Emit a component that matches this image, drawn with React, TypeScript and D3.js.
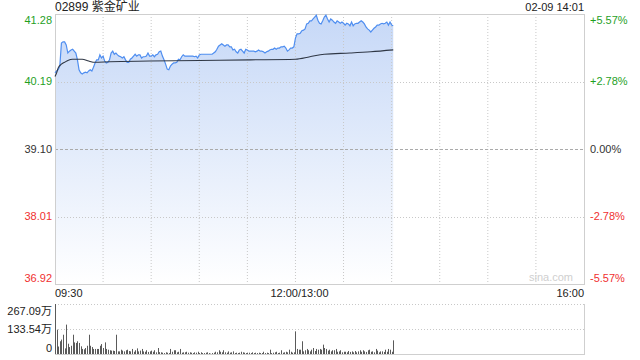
import React from "react";
import * as d3 from "d3";

const title = "02899 紫金矿业";
const stamp = "02-09 14:01";
const prevClose = 39.1;
const priceTicks = [41.28, 40.19, 39.1, 38.01, 36.92];
const pctTicks = ["+5.57%", "+2.78%", "0.00%", "-2.78%", "-5.57%"];
const timeTickMinutes = [0, 150, 330];
const timeTickLabels = ["09:30", "12:00/13:00", "16:00"];
const volTicks = [267.09, 133.54, 0];
const volTickLabels = ["267.09万", "133.54万", "0"];

const prices = [
  40.33, 40.36, 40.38, 40.44, 40.81, 40.83, 40.83, 40.78, 40.65, 40.68,
  40.7, 40.71, 40.68, 40.65, 40.54, 40.38, 40.33, 40.31, 40.33, 40.34,
  40.33, 40.36, 40.38, 40.36, 40.42, 40.49, 40.54, 40.54, 40.62, 40.57,
  40.6, 40.52, 40.49, 40.5, 40.54, 40.65, 40.68, 40.63, 40.65, 40.62,
  40.6, 40.59, 40.57, 40.59, 40.54, 40.5, 40.5, 40.55, 40.57, 40.6,
  40.63, 40.6, 40.62, 40.62, 40.57, 40.59, 40.59, 40.6, 40.65, 40.6,
  40.6, 40.62, 40.59, 40.62, 40.63, 40.67, 40.68, 40.6, 40.54, 40.47,
  40.39, 40.38, 40.44, 40.47, 40.49, 40.49, 40.5, 40.55, 40.54, 40.59,
  40.62, 40.6, 40.6, 40.6, 40.6, 40.6, 40.6, 40.59, 40.6, 40.57,
  40.62, 40.63, 40.63, 40.63, 40.63, 40.63, 40.63, 40.63, 40.63, 40.65,
  40.67, 40.71, 40.76, 40.78, 40.8, 40.78, 40.76, 40.78, 40.78, 40.75,
  40.75, 40.7, 40.71, 40.67, 40.65, 40.7, 40.71, 40.68, 40.65, 40.71,
  40.7, 40.68, 40.68, 40.68, 40.68, 40.67, 40.68, 40.7, 40.68, 40.68,
  40.67, 40.65, 40.67, 40.68, 40.7, 40.71, 40.71, 40.73, 40.71, 40.73,
  40.73, 40.75, 40.75, 40.76, 40.73, 40.68, 40.7, 40.73, 40.73, 40.75,
  40.89, 40.96, 40.96, 40.97, 41.01, 41.02, 41.04, 41.12, 41.13, 41.17,
  41.17, 41.2, 41.23, 41.26, 41.18, 41.13, 41.12, 41.17, 41.23, 41.26,
  41.2, 41.15, 41.2, 41.18, 41.15, 41.13, 41.17, 41.15, 41.13, 41.15,
  41.13, 41.1, 41.13, 41.12, 41.09, 41.15, 41.09, 41.12, 41.13, 41.13,
  41.15, 41.17, 41.15, 41.12, 41.07, 41.04, 41.02, 40.99, 41.02, 41.05,
  41.07, 41.1, 41.1, 41.12, 41.13, 41.12, 41.13, 41.15, 41.1, 41.15,
  41.1, 41.09,
];

const avgMinutes = [0, 1, 2, 4, 6, 8, 11, 13, 17, 21, 25, 34, 59, 90, 122, 150, 159, 168, 184, 197, 211];
const avgValues = [40.27, 40.33, 40.41, 40.47, 40.5, 40.53, 40.55, 40.55, 40.55, 40.52, 40.5, 40.51, 40.52, 40.53, 40.54, 40.55, 40.59, 40.63, 40.65, 40.67, 40.7];

const volumes = [
  267.09, 130, 40, 68, 77, 103, 30, 157, 55, 37,
  44, 103, 62, 59, 68, 59, 41, 27, 25, 32,
  44, 103, 44, 37, 27, 27, 27, 27, 44, 53,
  32, 62, 27, 23, 20, 18, 18, 16, 103, 14,
  14, 23, 18, 14, 20, 23, 16, 14, 27, 12,
  20, 30, 14, 18, 27, 14, 12, 20, 11, 14,
  18, 12, 20, 9, 32, 10, 9, 7, 5, 9,
  7, 5, 27, 12, 20, 20, 9, 12, 27, 7,
  9, 9, 12, 7, 9, 7, 5, 9, 7, 12,
  5, 9, 5, 5, 7, 9, 5, 2, 5, 7,
  12, 9, 20, 12, 9, 20, 9, 7, 14, 7,
  9, 14, 5, 7, 5, 7, 12, 9, 7, 5,
  7, 7, 5, 9, 5, 7, 5, 7, 5, 5,
  12, 5, 7, 5, 23, 5, 7, 9, 12, 5,
  7, 20, 7, 9, 12, 9, 23, 12, 7, 9,
  121, 27, 23, 23, 68, 14, 20, 27, 20, 14,
  23, 32, 16, 27, 23, 27, 23, 50, 32, 27,
  18, 23, 14, 20, 20, 27, 12, 14, 20, 9,
  12, 12, 9, 16, 11, 14, 9, 16, 9, 14,
  20, 12, 20, 14, 11, 20, 23, 12, 14, 9,
  27, 18, 9, 14, 14, 11, 23, 12, 27, 23,
  12, 73,
];

const L = 55, R = 584, T = 14, B = 284, VT = 304, VB = 354;
const GREEN = "#1f9f1f";
const RED = "#f03030";
const FONT = "Arial, 'Liberation Sans', 'Noto Sans CJK SC', sans-serif";

export default function App() {
  const x = d3.scaleLinear().domain([0, 330]).range([L, R]);
  const y = d3.scaleLinear().domain([36.92, 41.28]).range([B, T]);
  const yv = d3.scaleLinear().domain([0, 267.09]).range([VB, VT]);

  const line = d3.line<number>().x((_, i) => x(i)).y((d) => y(d));
  const area = d3.area<number>().x((_, i) => x(i)).y0(B).y1((d) => y(d));
  const avgLine = d3
    .line<number>()
    .x((_, i) => x(avgMinutes[i]))
    .y((d) => y(d))
    .curve(d3.curveMonotoneX);

  const colorFor = (v: number) =>
    Math.abs(v - prevClose) < 1e-6 ? "#333" : v > prevClose ? GREEN : RED;

  const vGrid = d3.range(30, 330, 30);

  return (
    <svg
      width={640}
      height={360}
      style={{ position: "absolute", left: 0, top: 0, background: "#fff" }}
      fontFamily={FONT}
    >
      <defs>
        <linearGradient id="fillGrad" gradientUnits="userSpaceOnUse" x1="0" y1={T} x2="0" y2={B}>
          <stop offset="0%" stopColor="#c6d8f7" />
          <stop offset="100%" stopColor="#ffffff" />
        </linearGradient>
      </defs>

      {/* header */}
      <text x={L} y={11} fontSize={12} fill="#222">{title}</text>
      <text x={R} y={11} fontSize={11} fill="#222" textAnchor="end">{stamp}</text>

      {/* area */}
      <path d={area(prices) || ""} fill="url(#fillGrad)" />

      {/* grid */}
      {vGrid.map((m) => (
        <line key={m} x1={x(m)} x2={x(m)} y1={T} y2={B} stroke="#c8c8c8" strokeDasharray="1,2" />
      ))}
      {priceTicks.slice(1, 4).map((v) => (
        <line
          key={v}
          x1={L}
          x2={R}
          y1={Math.round(y(v)) + 0.5}
          y2={Math.round(y(v)) + 0.5}
          stroke={v === prevClose ? "#aaa" : "#c8c8c8"}
          strokeDasharray={v === prevClose ? "3,2" : "1,2"}
        />
      ))}
      <rect x={L + 0.5} y={T + 0.5} width={R - L} height={B - T} fill="none" stroke="#cfcfcf" />

      {/* lines */}
      <path d={line(prices) || ""} fill="none" stroke="#4f8ef0" strokeWidth={1.2} />
      <path d={avgLine(avgValues) || ""} fill="none" stroke="#2f3745" strokeWidth={1.1} />

      {/* watermark */}
      <text x={573} y={281} fontSize={11} fill="#cfcfcf" textAnchor="end">sina.com</text>

      {/* price labels */}
      {priceTicks.map((v, i) => {
        const yy = Math.min(Math.max(y(v), T + 6), B - 6);
        return (
          <g key={v}>
            <text x={52} y={yy} dy="0.35em" fontSize={11} textAnchor="end" fill={colorFor(v)}>
              {v.toFixed(2)}
            </text>
            <text x={590} y={yy} dy="0.35em" fontSize={11} fill={colorFor(v)}>
              {pctTicks[i]}
            </text>
          </g>
        );
      })}

      {/* time labels */}
      {timeTickMinutes.map((m, i) => (
        <text
          key={m}
          x={i === 0 ? L : i === timeTickMinutes.length - 1 ? R : x(m) + 4}
          y={293}
          dy="0.35em"
          fontSize={11}
          fill="#222"
          textAnchor={i === 0 ? "start" : i === timeTickMinutes.length - 1 ? "end" : "middle"}
        >
          {timeTickLabels[i]}
        </text>
      ))}

      {/* volume panel */}
      <line x1={L} x2={R} y1={VT + 0.5} y2={VT + 0.5} stroke="#c8c8c8" strokeDasharray="1,2" />
      <line x1={L} x2={R} y1={Math.round(yv(133.54)) + 0.5} y2={Math.round(yv(133.54)) + 0.5} stroke="#c8c8c8" strokeDasharray="1,2" />
      <line x1={R + 0.5} x2={R + 0.5} y1={VT} y2={VB + 1} stroke="#cfcfcf" />
      <line x1={L + 0.5} x2={L + 0.5} y1={VT} y2={VB + 1} stroke="#cfcfcf" />
      <line x1={L} x2={R + 1} y1={VB + 0.5} y2={VB + 0.5} stroke="#cfcfcf" />
      {volumes.map((v, i) => (
        <rect
          key={i}
          x={Math.round(x(i))}
          y={yv(v)}
          width={1}
          height={VB - yv(v)}
          fill="#5a5a5a"
        />
      ))}
      {volTicks.map((v, i) => {
        const yy = Math.min(Math.max(yv(v), VT + 7), VB - 6);
        return (
          <text key={i} x={52} y={yy} dy="0.35em" fontSize={11} textAnchor="end" fill="#222">
            {volTickLabels[i]}
          </text>
        );
      })}
    </svg>
  );
}
